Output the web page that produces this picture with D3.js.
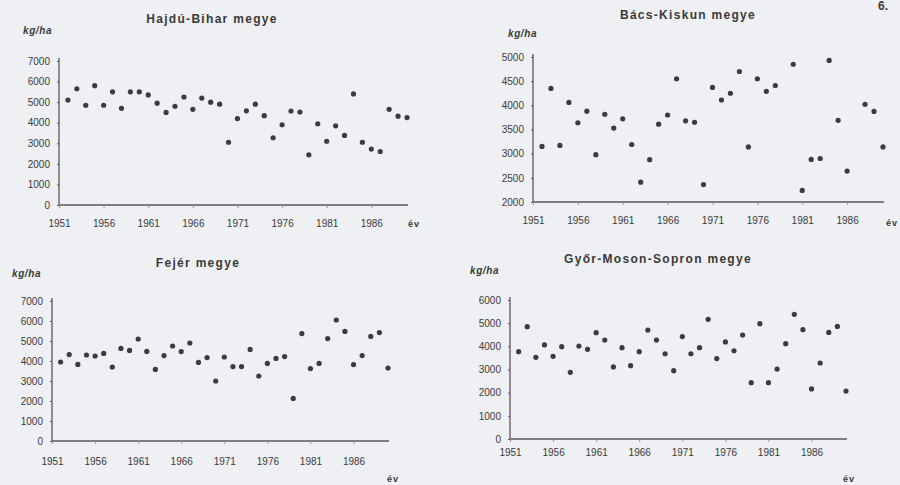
<!DOCTYPE html>
<html>
<head>
<meta charset="utf-8">
<script src="https://cdn.jsdelivr.net/npm/d3@7"></script>
<style>
  html, body { margin: 0; padding: 0; background: #eff0f3; }
  svg { display: block; }
  text { font-family: "Liberation Sans", Arial, sans-serif; fill: #3a3a3a; }
</style>
</head>
<body>
<svg id="chart" width="900" height="485"></svg>
<script>
// Yields, kg/ha, one value per year 1952–1990 (null = no observation)
const years = d3.range(1952, 1991);
const xTickLabels = [1951, 1956, 1961, 1966, 1971, 1976, 1981, 1986];

const hajduBihar = [5100, 5650, 4850, 5800, 4850, 5500, 4700, 5500, 5500, 5350,
  4950, 4500, 4800, 5250, 4650, 5200, 5000, 4900, 3050, 4200,
  4580, 4900, 4340, 3270, 3900, 4570, 4520, 2440, 3950, 3100,
  3850, 3380, 5400, 3050, 2720, 2600, 4650, 4320, 4250];

const bacsKiskun = [3150, 4350, 3170, 4060, 3640, 3880, 2980, 3815, 3530, 3720,
  3190, 2410, 2875, 3610, 3800, 4550, 3680, 3650, 2360, 4370,
  4110, 4250, 4700, 3140, 4550, 4290, 4410, null, 4850, 2240,
  2880, 2900, 4930, 3690, 2640, null, 4020, 3875, 3140];

const fejer = [3950, 4320, 3830, 4300, 4250, 4380, 3700, 4630, 4530, 5100,
  4480, 3580, 4270, 4750, 4470, 4900, 3930, 4170, 3000, 4200,
  3720, 3720, 4580, 3250, 3880, 4130, 4220, 2130, 5370, 3620,
  3880, 5120, 6050, 5480, 3820, 4270, 5230, 5420, 3650];

const gyorMosonSopron = [3770, 4850, 3525, 4060, 3570, 3985, 2880, 4015, 3870, 4590,
  4270, 3110, 3940, 3165, 3770, 4700, 4270, 3680, 2950, 4420,
  3680, 3940, 5165, 3470, 4190, 3810, 4490, 2430, 4980, 2430,
  3020, 4115, 5380, 4720, 2160, 3280, 4600, 4860, 2070];

const titles = ["Hajdú-Bihar megye", "Bács-Kiskun megye", "Fejér megye", "Győr-Moson-Sopron megye"];
const yTicks = [d3.range(0, 7001, 1000), d3.range(2000, 5001, 500), d3.range(0, 7001, 1000), d3.range(0, 6001, 1000)];
const yDomains = [[0, 7000], [2000, 5000], [0, 7000], [0, 6000]];
const series = [hajduBihar, bacsKiskun, fejer, gyorMosonSopron];

// Panel geometry: plot box, title, unit label and axis-name positions
const panels = [
  { x0: 59,  x1: 407, yTop: 61,  yBot: 205, titleX: 212, titleY: 23,  unitX: 23,  unitY: 34,  labY: 227, evX: 408, evY: 227 },
  { x0: 533, x1: 883, yTop: 57,  yBot: 202, titleX: 688, titleY: 19,  unitX: 508, unitY: 37,  labY: 224, evX: 886, evY: 226 },
  { x0: 52,  x1: 388, yTop: 301, yBot: 441, titleX: 198, titleY: 267, unitX: 12,  unitY: 277, labY: 465, evX: 387, evY: 482 },
  { x0: 510, x1: 846, yTop: 300, yBot: 439, titleX: 658, titleY: 263, unitX: 470, unitY: 274, labY: 456, evX: 843, evY: 482 }
];

const svg = d3.select("#chart");
const axisColor = "#5e545e";

panels.forEach((p, i) => {
  const g = svg.append("g");
  const x = d3.scaleLinear().domain([1951, 1990]).range([p.x0, p.x1]);
  const y = d3.scaleLinear().domain(yDomains[i]).range([p.yBot, p.yTop]);

  // title
  g.append("text")
    .attr("x", p.titleX).attr("y", p.titleY)
    .attr("text-anchor", "middle")
    .attr("font-size", 12).attr("font-weight", "bold")
    .attr("letter-spacing", 1.3)
    .text(titles[i]);

  // unit
  g.append("text")
    .attr("x", p.unitX).attr("y", p.unitY)
    .attr("font-size", 10).attr("font-weight", "bold").attr("font-style", "italic")
    .attr("letter-spacing", 0.6)
    .text("kg/ha");

  // y axis
  const yAxis = d3.axisLeft(y).tickValues(yTicks[i]).tickSize(2).tickPadding(7).tickFormat(d3.format("d"));
  const ya = g.append("g").attr("transform", `translate(${p.x0},0)`).call(yAxis);
  ya.select(".domain").attr("stroke", axisColor).attr("stroke-width", 1.3)
    .attr("d", `M0,${p.yTop - 3}V${p.yBot}`);
  ya.selectAll(".tick line").attr("stroke", axisColor);
  ya.selectAll(".tick text").attr("font-size", 10).attr("fill", "#3a3a3a")
    .attr("font-family", "Liberation Sans, Arial, sans-serif");

  // x axis
  const xAxis = d3.axisBottom(x).tickValues(xTickLabels).tickSize(3).tickPadding(9).tickFormat(d3.format("d"));
  const xa = g.append("g").attr("transform", `translate(0,${p.yBot})`).call(xAxis);
  xa.select(".domain").attr("stroke", axisColor).attr("stroke-width", 1.3)
    .attr("d", `M${p.x0},0H${p.x1 + 1}`);
  xa.selectAll(".tick line").attr("stroke", "#9a949a");
  xa.selectAll(".tick text").attr("font-size", 10).attr("fill", "#3a3a3a")
    .attr("font-family", "Liberation Sans, Arial, sans-serif")
    .attr("y", p.labY - p.yBot).attr("dy", "0");

  // axis name
  g.append("text")
    .attr("x", p.evX).attr("y", p.evY)
    .attr("font-size", 9).attr("font-weight", "bold")
    .attr("letter-spacing", 1)
    .text("év");

  // yearly points
  const pts = years.map((yr, k) => ({ yr, v: series[i][k] })).filter(d => d.v !== null);
  g.append("g").selectAll("circle")
    .data(pts)
    .join("circle")
    .attr("cx", d => x(d.yr))
    .attr("cy", d => y(d.v))
    .attr("r", 2.6)
    .attr("fill", "#3d3b40");
});

// page number at the upper corner
svg.append("text")
  .attr("x", 878).attr("y", 10)
  .attr("font-size", 12).attr("font-weight", "bold")
  .text("6.");
</script>
</body>
</html>
